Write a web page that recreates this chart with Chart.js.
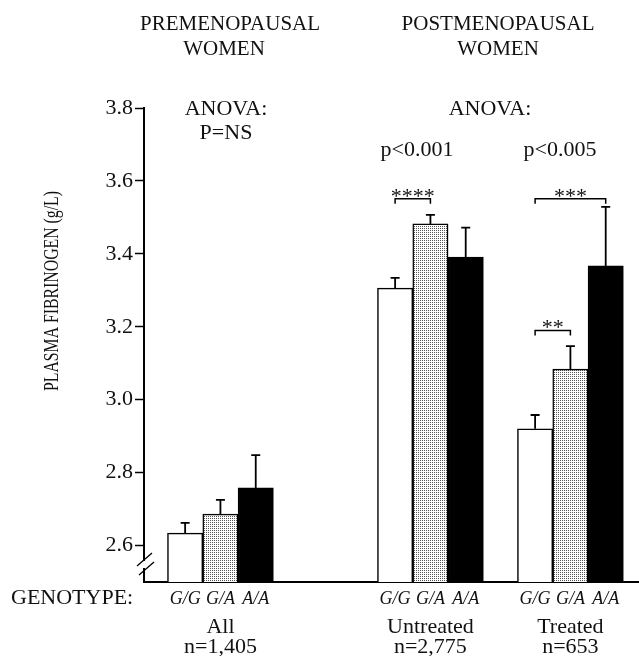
<!DOCTYPE html>
<html>
<head>
<meta charset="utf-8">
<script src="https://cdn.jsdelivr.net/npm/chart.js@4.4.1/dist/chart.umd.min.js"></script>
<style>
  html, body { margin: 0; padding: 0; background: #fff; }
  #wrap { width: 639px; height: 656px; }
</style>
</head>
<body>
<div id="wrap"><canvas id="fibChart" width="639" height="656"></canvas></div>
<script>
// nhóm phụ nữ (trục x) và cỡ mẫu
const groups = ['All', 'Untreated', 'Treated'];
const groupN = ['n=1,405', 'n=2,775', 'n=653'];
const groupX = [0, 1.5, 2.5];
const genotypes = ['G/G', 'G/A', 'A/A'];

// fibrinogen huyết tương trung bình (g/L) theo kiểu gen
const meanGG = [2.634, 3.306, 2.920];
const meanGA = [2.686, 3.482, 3.084];
const meanAA = [2.758, 3.391, 3.367];
// đỉnh thanh sai số (g/L)
const errGG = [2.662, 3.334, 2.958];
const errGA = [2.725, 3.507, 3.147];
const errAA = [2.848, 3.472, 3.529];

const yTicks = [2.6, 2.8, 3.0, 3.2, 3.4, 3.6, 3.8];

// các so sánh có ý nghĩa: nhóm, kiểu gen từ -> đến, mức (g/L), nhãn
const sigGroup = [1, 2, 2];
const sigFrom = [0, 0, 0];
const sigTo = [1, 2, 1];
const sigLevel = [3.551, 3.551, 3.19];
const sigLabel = ['****', '***', '**'];

const SERIF = "'Liberation Serif', 'Times New Roman', serif";

const canvasElement = document.getElementById('fibChart');
const ctx = canvasElement.getContext('2d');

// nền chấm cho cột G/A
function dotPattern() {
    const c = document.createElement('canvas');
    c.width = 2; c.height = 2;
    const g = c.getContext('2d');
    g.fillStyle = '#ffffff';
    g.fillRect(0, 0, 2, 2);
    g.fillStyle = '#555555';
    g.fillRect(0, 0, 1, 1);
    return ctx.createPattern(c, 'repeat');
}

function toPoints(vals) {
    return groupX.map((x, i) => ({ x: x, y: vals[i] }));
}

// vẽ thanh sai số (chỉ phía trên)
const errorBars = {
    id: 'errorBars',
    afterDatasetsDraw(chart) {
        const c = chart.ctx;
        const y = chart.scales.y;
        c.save();
        c.strokeStyle = '#000';
        c.lineWidth = 1.8;
        chart.data.datasets.forEach((ds, di) => {
            chart.getDatasetMeta(di).data.forEach((bar, i) => {
                const top = y.getPixelForValue(ds.err[i]);
                c.beginPath();
                c.moveTo(bar.x, bar.y);
                c.lineTo(bar.x, top);
                c.moveTo(bar.x - 4.5, top);
                c.lineTo(bar.x + 4.5, top);
                c.stroke();
            });
        });
        c.restore();
    }
};

// chữ chú thích, ngoặc ý nghĩa, dấu ngắt trục
const annotations = {
    id: 'annotations',
    afterDraw(chart) {
        const c = chart.ctx;
        const y = chart.scales.y;
        const area = chart.chartArea;
        c.save();
        c.fillStyle = '#111';
        c.strokeStyle = '#000';
        c.textAlign = 'center';
        c.textBaseline = 'alphabetic';

        // tiêu đề nhóm
        c.font = '21px ' + SERIF;
        c.fillText('PREMENOPAUSAL', 230, 30);
        c.fillText('WOMEN', 224, 55);
        c.fillText('POSTMENOPAUSAL', 498, 30);
        c.fillText('WOMEN', 498, 55);

        c.font = '22px ' + SERIF;
        c.fillText('ANOVA:', 226, 115);
        c.fillText('P=NS', 226, 139);
        c.fillText('ANOVA:', 490, 115);
        c.fillText('p<0.001', 417, 156);
        c.fillText('p<0.005', 560, 156);

        // ngoặc so sánh
        c.lineWidth = 1.5;
        sigLabel.forEach((lab, k) => {
            const a = chart.getDatasetMeta(sigFrom[k]).data[sigGroup[k]].x;
            const b = chart.getDatasetMeta(sigTo[k]).data[sigGroup[k]].x;
            const yy = y.getPixelForValue(sigLevel[k]);
            c.beginPath();
            c.moveTo(a, yy + 5);
            c.lineTo(a, yy);
            c.lineTo(b, yy);
            c.lineTo(b, yy + 5);
            c.stroke();
            c.fillText(lab, (a + b) / 2, yy + 4);
        });

        // nhãn trục y
        c.save();
        c.translate(52, 291);
        c.rotate(-Math.PI / 2);
        c.textBaseline = 'middle';
        c.font = '22px ' + SERIF;
        c.fillText('PLASMA FIBRINOGEN (g/L)', 0, 0, 200);
        c.restore();

        // nhãn dưới trục x
        c.textAlign = 'left';
        c.font = '22px ' + SERIF;
        c.fillText('GENOTYPE:', 11, 604);
        c.textAlign = 'center';
        c.font = 'italic 18px ' + SERIF;
        chart.data.datasets.forEach((ds, di) => {
            chart.getDatasetMeta(di).data.forEach(bar => {
                c.fillText(genotypes[di], bar.x, 604);
            });
        });
        c.font = '22px ' + SERIF;
        groups.forEach((g, i) => {
            const gx = chart.scales.x.getPixelForValue(groupX[i]);
            c.fillText(g, gx, 633);
            c.fillText(groupN[i], gx, 653);
        });

        // dấu ngắt trục y
        const L = area.left, B = area.bottom;
        c.fillStyle = '#fff';
        c.fillRect(L - 3, B - 21, 6, 7);
        c.lineWidth = 1.3;
        c.beginPath();
        c.moveTo(L - 7, B - 16); c.lineTo(L + 8, B - 29);
        c.moveTo(L - 5, B - 7); c.lineTo(L + 10, B - 20);
        c.stroke();
        c.restore();
    }
};

canvasElement.chartInstance = new Chart(ctx, {
    type: 'bar',
    data: {
        datasets: [
            { label: genotypes[0], data: toPoints(meanGG), err: errGG, backgroundColor: '#ffffff', borderColor: '#000', borderWidth: 1.5 },
            { label: genotypes[1], data: toPoints(meanGA), err: errGA, backgroundColor: dotPattern(), borderColor: '#000', borderWidth: 1.5 },
            { label: genotypes[2], data: toPoints(meanAA), err: errAA, backgroundColor: '#000000', borderColor: '#000', borderWidth: 1.5 }
        ]
    },
    options: {
        responsive: false,
        animation: false,
        layout: { padding: { top: 108, bottom: 74, left: 0, right: 0 } },
        datasets: { bar: { barThickness: 35.3 } },
        plugins: { legend: { display: false }, tooltip: { enabled: false } },
        scales: {
            x: {
                type: 'linear',
                offset: false,
                min: -0.546,
                max: 2.99,
                ticks: { display: false },
                grid: { display: false },
                border: { color: '#000', width: 2 },
                afterFit: s => { s.height = 0; }
            },
            y: {
                min: 2.5,
                max: 3.8,
                afterBuildTicks: s => { s.ticks = yTicks.map(v => ({ value: v })); },
                afterFit: s => { s.width = 144; },
                ticks: {
                    font: { family: SERIF, size: 22 },
                    color: '#111',
                    padding: 2,
                    callback: v => Number(v).toFixed(1)
                },
                grid: { drawOnChartArea: false, tickLength: 9, tickWidth: 1.5, tickColor: '#000' },
                border: { color: '#000', width: 2 }
            }
        }
    },
    plugins: [errorBars, annotations]
});
</script>
</body>
</html>
